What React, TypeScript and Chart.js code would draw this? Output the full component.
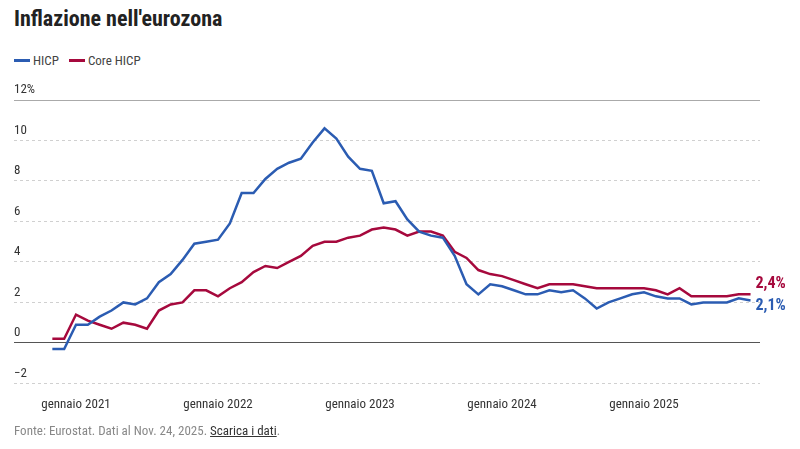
import React, { useEffect, useRef } from "react";
import { Chart, registerables } from "chart.js";

Chart.register(...registerables);

// First month of the series: Nov 2020 (month index -2 relative to Jan 2021)
const START_INDEX = -2;
const hicp = [
  -0.3, -0.3,
  0.9, 0.9, 1.3, 1.6, 2.0, 1.9, 2.2, 3.0, 3.4, 4.1, 4.9, 5.0,
  5.1, 5.9, 7.4, 7.4, 8.1, 8.6, 8.9, 9.1, 9.9, 10.6, 10.1, 9.2,
  8.6, 8.5, 6.9, 7.0, 6.1, 5.5, 5.3, 5.2, 4.3, 2.9, 2.4, 2.9,
  2.8, 2.6, 2.4, 2.4, 2.6, 2.5, 2.6, 2.2, 1.7, 2.0, 2.2, 2.4,
  2.5, 2.3, 2.2, 2.2, 1.9, 2.0, 2.0, 2.0, 2.2, 2.1,
];
const core = [
  0.2, 0.2,
  1.4, 1.1, 0.9, 0.7, 1.0, 0.9, 0.7, 1.6, 1.9, 2.0, 2.6, 2.6,
  2.3, 2.7, 3.0, 3.5, 3.8, 3.7, 4.0, 4.3, 4.8, 5.0, 5.0, 5.2,
  5.3, 5.6, 5.7, 5.6, 5.3, 5.5, 5.5, 5.3, 4.5, 4.2, 3.6, 3.4,
  3.3, 3.1, 2.9, 2.7, 2.9, 2.9, 2.9, 2.8, 2.7, 2.7, 2.7, 2.7,
  2.7, 2.6, 2.4, 2.7, 2.3, 2.3, 2.3, 2.3, 2.4, 2.4,
];
const xTickValues = [0, 12, 24, 36, 48];
const xTickLabels = ["gennaio 2021", "gennaio 2022", "gennaio 2023", "gennaio 2024", "gennaio 2025"];
const yTickValues = [-2, 0, 2, 4, 6, 8, 10, 12];
const seriesNames = ["HICP", "Core HICP"];
const seriesColors = ["#2b5cb2", "#a6093d"];

const FONT = "'Roboto Condensed', 'Liberation Sans Narrow', 'Arial Narrow', 'DejaVu Sans Condensed', Roboto, sans-serif";

const endLabels = {
  id: "endLabels",
  afterDatasetsDraw(chart: any) {
    const ctx = chart.ctx;
    const offsets = [6, -10];
    chart.data.datasets.forEach((ds: any, i: number) => {
      const meta = chart.getDatasetMeta(i);
      const last = meta.data[meta.data.length - 1];
      const v = ds.data[ds.data.length - 1].y;
      ctx.save();
      ctx.font = `bold 16px ${FONT}`;
      ctx.fillStyle = ds.borderColor;
      ctx.textAlign = "left";
      ctx.textBaseline = "middle";
      ctx.fillText(v.toFixed(1).replace(".", ",") + "%", last.x + 5, last.y + offsets[i]);
      ctx.restore();
    });
  },
};

export default function App() {
  const ref = useRef<HTMLCanvasElement>(null);
  useEffect(() => {
    document.body.style.margin = "0";
    Chart.defaults.font.family = FONT;
    const toPts = (arr: number[]) => arr.map((y, i) => ({ x: START_INDEX + i, y }));
    const chart = new Chart(ref.current!, {
      type: "line",
      data: {
        datasets: [
          { label: seriesNames[0], data: toPts(hicp), borderColor: seriesColors[0], borderWidth: 2.5, pointRadius: 0, tension: 0 },
          { label: seriesNames[1], data: toPts(core), borderColor: seriesColors[1], borderWidth: 2.5, pointRadius: 0, tension: 0 },
        ],
      },
      options: {
        animation: false,
        responsive: false,
        devicePixelRatio: 1,
        layout: { padding: { left: 14, right: 40, top: 100, bottom: 22 } },
        plugins: { legend: { display: false }, tooltip: { enabled: false } },
        scales: {
          x: {
            type: "linear",
            min: -5.24,
            max: 57.8,
            grid: { display: false, drawTicks: false },
            border: { display: false },
            afterBuildTicks: (s: any) => { s.ticks = xTickValues.map((v) => ({ value: v })); },
            ticks: {
              padding: 14,
              maxRotation: 0,
              autoSkip: false,
              color: "#333",
              font: { size: 13 },
              callback: (v: any) => xTickLabels[xTickValues.indexOf(v)] ?? "",
            },
          },
          y: {
            min: -2,
            max: 12,
            afterBuildTicks: (s: any) => { s.ticks = yTickValues.map((v) => ({ value: v })); },
            grid: {
              drawTicks: false,
              color: (c: any) => (c.tick && c.tick.value === 0 ? "#555" : c.tick && c.tick.value === 12 ? "#aaa" : "#d0d0d0"),
              lineWidth: 1,
            },
            border: {
              display: false,
              dash: (c: any) => (c.tick && (c.tick.value === 0 || c.tick.value === 12) ? [] : [3, 3]),
            } as any,
            ticks: {
              mirror: true,
              padding: 0,
              labelOffset: -10,
              color: "#333",
              font: { size: 13 },
              callback: (v: any) => (v === 12 ? "12%" : v < 0 ? "\u22122" : String(v)),
            },
          },
        },
      },
      plugins: [endLabels],
    });
    return () => chart.destroy();
  }, []);

  return (
    <div style={{ position: "relative", width: 800, height: 449, fontFamily: FONT, background: "#fff", overflow: "hidden" }}>
      <div style={{ position: "absolute", left: 14, top: 6, fontSize: 22, fontWeight: 700, color: "#222" }}>Inflazione nell'eurozona</div>
      <div style={{ position: "absolute", left: 14, top: 53, fontSize: 13, color: "#444", display: "flex", alignItems: "center" }}>
        {seriesNames.map((n, i) => (
          <span key={n} style={{ display: "flex", alignItems: "center", marginRight: 10 }}>
            <span style={{ display: "inline-block", width: 16, height: 2.5, background: seriesColors[i], marginRight: 3 }} />
            {n}
          </span>
        ))}
      </div>
      <canvas ref={ref} width={800} height={449} style={{ position: "absolute", left: 0, top: 0 }} />
      <div style={{ position: "absolute", left: 14, top: 423, fontSize: 13, color: "#888" }}>
        Fonte: Eurostat. Dati al Nov. 24, 2025.{" "}
        <span style={{ color: "#333", textDecoration: "underline" }}>Scarica i dati</span>.
      </div>
    </div>
  );
}
